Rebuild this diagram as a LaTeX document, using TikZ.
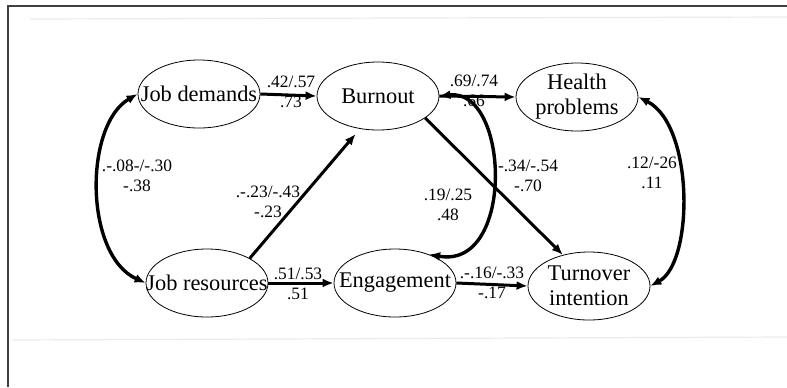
\documentclass[tikz,border=0pt]{standalone}
\usepackage{fontspec}
\setmainfont{Liberation Serif}
\usepackage{tikz}
\usetikzlibrary{arrows.meta,positioning,shapes.geometric}

\begin{document}
\begin{tikzpicture}[
    x = 0.5pt, y = -0.5pt,
    latent/.style={
        ellipse, % shape
        draw = black, thin, %border
        minimum width = 61pt, minimum height = 34pt,
        inner xsep = -20pt, inner ysep = -15pt, %size set by minimum
        align = center,
        font = \fontsize{11.2}{12.5}\selectfont %font
      },
    coef/.style={
        align = center, inner sep = 0pt,
        font = \fontsize{8.7}{10}\selectfont
      },
    path/.style={line width = 1.5pt, -{Latex[length=5.5pt,width=4.5pt]}},
    covar/.style={line width = 1.7pt, {Latex[length=5.5pt,width=4.5pt]}-{Latex[length=5.5pt,width=4.5pt]}}
  ]
  \useasboundingbox (0,0) rectangle (787,387);
  % frame of the scan
  \draw[line width = 0.7pt, black!75] (8,387) -- (8,6) -- (787,6);
  \draw[black!8, line width = 0.6pt] (30,19) -- (787,17);
  \draw[black!8, line width = 0.6pt] (12,340) -- (787,337);

  % latent variables
  \node [latent] (jd) at (199,94) {Job demands};
  \node [latent] (bo) at (378,96) {Burnout};
  \node [latent] (hp) at (577,97) {Health\\problems};
  \node [latent] (jr) at (207,283) {Job resources};
  \node [latent] (en) at (395,283) {Engagement};
  \node [latent] (ti) at (589,286) {Turnover\\intention};

  % paths
  \draw [path] (jd.east) -- (bo.west);
  \draw [path] (bo.east) -- (hp.west);
  \draw [path] (jr.east) -- (en.west);
  \draw [path] (en.east) -- (ti.west);
  \draw [path] (jr.30) -- ([yshift=-3pt]bo.235);
  \draw [path] (bo.-25) -- (ti.130);

  % covariances
  \draw [covar] (jd.west) .. controls (84,125) and (84,255) .. (jr.west);
  \draw [covar] (hp.east) .. controls (694,125) and (694,262) .. (ti.east);
  \draw [covar] (bo.east) .. controls (510,88) and (515,270) .. (en.40);

  % coefficients
  \node [coef] (c1) at (291,92) {.42/.57\\.73};
  \node [coef] (c2) at (474,91) {.69/.74\\.66};
  \node [coef] (c3) at (298,284) {.51/.53\\.51};
  \node [coef] (c4) at (492,283) {.-.16/-.33\\-.17};
  \node [coef] (c5) at (268,202) {.-.23/-.43\\-.23};
  \node [coef] (c6) at (448,205) {.19/.25\\.48};
  \node [coef] (c7) at (528,176) {-.34/-.54\\-.70};
  \node [coef] (c8) at (137,176) {.-.08-/-.30\\-.38};
  \node [coef] (c9) at (652,173) {.12/-26\\.11};
\end{tikzpicture}
\end{document}
